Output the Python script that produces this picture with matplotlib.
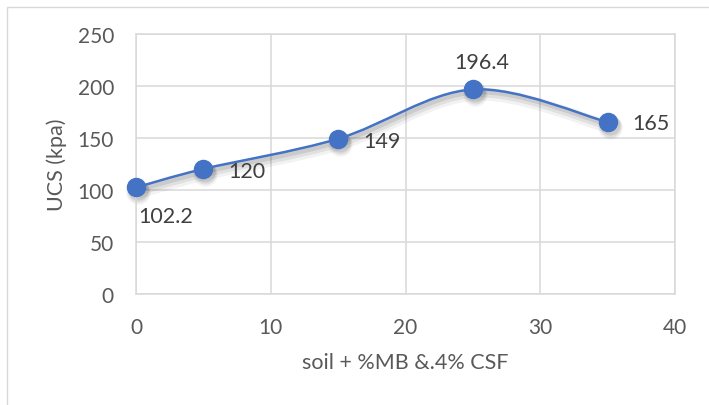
import matplotlib
matplotlib.use("Agg")
import matplotlib.pyplot as plt
import matplotlib.transforms as mtransforms
from matplotlib.path import Path
from matplotlib.patches import PathPatch, Rectangle

# UCS test results vs additive content
pct = [0, 5, 15, 25, 35]
ucs = [102.2, 120, 149, 196.4, 165]
xticks = [0, 10, 20, 30, 40]
yticks = [0, 50, 100, 150, 200, 250]

# label placement (pixels from the point), per point
lab_off = [(2, -29, "left"), (25, -2, "left"), (25, -2, "left"),
           (9, 27, "center"), (25, -1, "left")]

blue = "#4472C4"
grid = "#D9D9D9"
txt = "#595959"
fs = 15
plt.rcParams["font.family"] = ["Lato", "DejaVu Sans"]


def smooth_path(xs, ys):
    # Catmull-Rom style bezier, like a spreadsheet "smoothed line"
    pts = list(zip(xs, ys))
    n = len(pts)
    verts = [pts[0]]
    codes = [Path.MOVETO]
    for i in range(n - 1):
        p0 = pts[max(i - 1, 0)]
        p1 = pts[i]
        p2 = pts[i + 1]
        p3 = pts[min(i + 2, n - 1)]
        c1 = (p1[0] + (p2[0] - p0[0]) / 6, p1[1] + (p2[1] - p0[1]) / 6)
        c2 = (p2[0] - (p3[0] - p1[0]) / 6, p2[1] - (p3[1] - p1[1]) / 6)
        verts += [c1, c2, p2]
        codes += [Path.CURVE4] * 3
    return Path(verts, codes)


fig = plt.figure(figsize=(7.09, 4.06), dpi=100)
ax = fig.add_axes([0.192, 0.274, 0.760, 0.6405])

ax.set_xlim(0, 40)
ax.set_ylim(0, 250)
ax.set_xticks(xticks)
ax.set_yticks(yticks)
ax.grid(True, color=grid, linewidth=1.1)
ax.set_axisbelow(True)
for s in ax.spines.values():
    s.set_color(grid)
    s.set_linewidth(1.1)
ax.tick_params(length=0, labelsize=fs, colors=txt)
ax.tick_params(axis="x", pad=17)
ax.tick_params(axis="y", pad=16)

path = smooth_path(pct, ucs)

# soft drop shadow under the line and markers
for dx, dy, a, lw in [(2, 5, 0.05, 9), (2, 4, 0.07, 6), (2, 3, 0.09, 3)]:
    tr = ax.transData + mtransforms.ScaledTranslation(dx / 100, -dy / 100, fig.dpi_scale_trans)
    ax.add_patch(PathPatch(path, facecolor="none", edgecolor="black",
                           alpha=a, lw=lw, transform=tr, clip_on=False))
    ax.plot(pct, ucs, "o", color="black", alpha=a, ms=13 + lw / 2,
            mec="none", transform=tr, clip_on=False)

ax.add_patch(PathPatch(path, facecolor="none", edgecolor=blue, lw=1.8,
                       clip_on=False, zorder=3))
ax.plot(pct, ucs, "o", color=blue, ms=13, mec=blue, clip_on=False, zorder=4)

for x, y, (dx, dy, ha) in zip(pct, ucs, lab_off):
    ax.annotate(f"{y:g}", (x, y), xytext=(dx, dy), textcoords="offset pixels",
                ha=ha, va="center", fontsize=fs + 0.5, color="#404040", zorder=5)

ax.set_xlabel("soil + %MB &.4% CSF", fontsize=fs + 0.5, color=txt)
ax.set_ylabel("UCS (kpa)", fontsize=fs + 0.5, color=txt)
ax.xaxis.set_label_coords(0.5, -0.225)
ax.yaxis.set_label_coords(-0.128, 0.5)

# chart area border
fig.add_artist(Rectangle((7 / 709, -0.05), 1.2, 1.05 - 8 / 406,
                         transform=fig.transFigure, fill=False,
                         edgecolor=grid, lw=1.0))

fig.savefig("out.png", dpi=100)
